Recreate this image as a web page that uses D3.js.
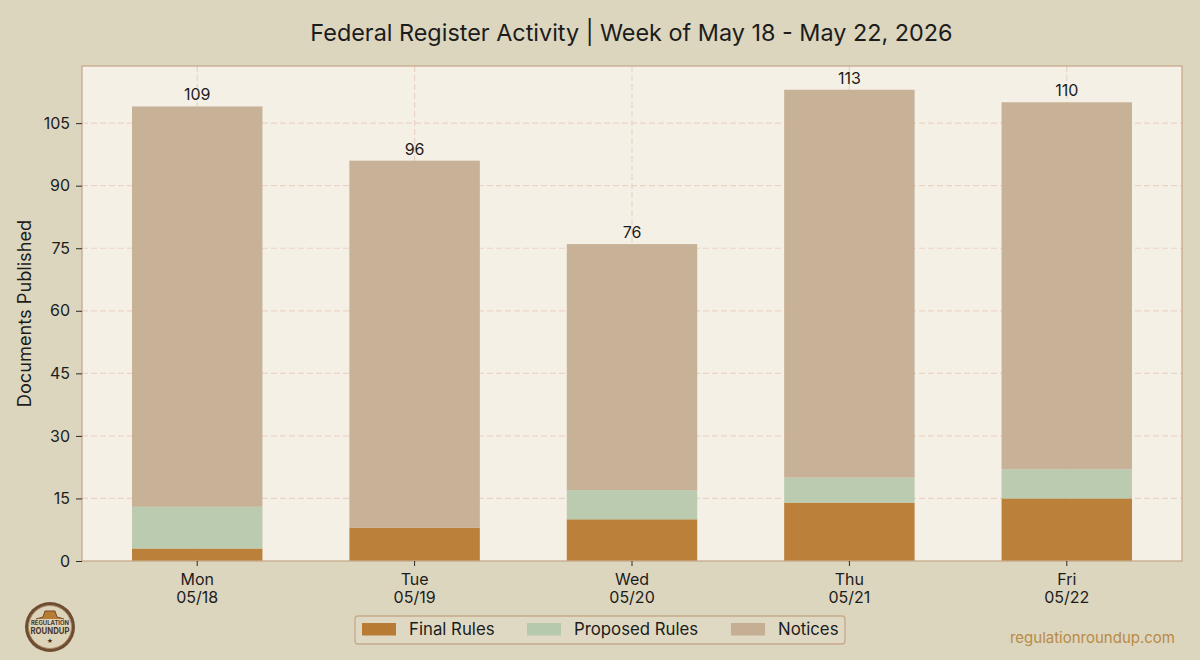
<!DOCTYPE html>
<html>
<head>
<meta charset="utf-8">
<script src="https://cdn.jsdelivr.net/npm/d3@7"></script>
<style>
  html, body { margin: 0; padding: 0; background: #dcd6be; }
  svg { display: block; }
  text { font-family: Inter, "Noto Sans", sans-serif; fill: #1c1c1c; }
</style>
</head>
<body>
<script>
// values
var days = ['Mon', 'Tue', 'Wed', 'Thu', 'Fri'];
var dates = ['05/18', '05/19', '05/20', '05/21', '05/22'];
var finalRules = [3, 8, 10, 14, 15];
var proposedRules = [10, 0, 7, 6, 7];
var notices = [96, 88, 59, 93, 88];
var totals = [109, 96, 76, 113, 110];
var yTicks = [0, 15, 30, 45, 60, 75, 90, 105];
var seriesNames = ['Final Rules', 'Proposed Rules', 'Notices'];
var seriesColors = ['#b87b33', '#b7c9ad', '#c5ae94'];

var width = 1200;
var height = 660;
var plotLeft = 82, plotRight = 1182, plotTop = 66, plotBottom = 561;

var svg = d3.select('body')
  .append('svg')
    .attr('width', width)
    .attr('height', height);

svg.append('rect')
    .attr('width', width)
    .attr('height', height)
    .attr('fill', '#dcd6be');

var x = d3.scaleBand()
    .domain(days)
    .range([plotLeft, plotRight])
    .paddingInner(0.4)
    .paddingOuter(0.23);

var y = d3.scaleLinear()
    .domain([0, 118.7])
    .range([plotBottom, plotTop]);

// plot background
svg.append('rect')
    .attr('x', plotLeft)
    .attr('y', plotTop)
    .attr('width', plotRight - plotLeft)
    .attr('height', plotBottom - plotTop)
    .attr('fill', '#f5f0e6');

// grid
var gridColor = '#ebd3c6';
svg.append('g').selectAll('line')
  .data(yTicks.slice(1))
  .join('line')
    .attr('x1', plotLeft).attr('x2', plotRight)
    .attr('y1', d => y(d)).attr('y2', d => y(d))
    .attr('stroke', gridColor)
    .attr('stroke-width', 1.2)
    .attr('stroke-dasharray', '6 3');

svg.append('g').selectAll('line')
  .data(days)
  .join('line')
    .attr('x1', d => x(d) + x.bandwidth() / 2)
    .attr('x2', d => x(d) + x.bandwidth() / 2)
    .attr('y1', plotTop).attr('y2', plotBottom)
    .attr('stroke', gridColor)
    .attr('stroke-width', 1.2)
    .attr('stroke-dasharray', '6 3');

// stacked bars
var rows = days.map((d, i) => ({
  day: d,
  'Final Rules': finalRules[i],
  'Proposed Rules': proposedRules[i],
  'Notices': notices[i]
}));
var stacked = d3.stack().keys(seriesNames)(rows);

svg.append('g').selectAll('g')
  .data(stacked)
  .join('g')
    .attr('fill', (d, i) => seriesColors[i])
    .attr('fill-opacity', 0.96)
  .selectAll('rect')
  .data(d => d)
  .join('rect')
    .attr('x', d => x(d.data.day))
    .attr('y', d => y(d[1]))
    .attr('width', x.bandwidth())
    .attr('height', d => y(d[0]) - y(d[1]));

// totals over the bars
svg.append('g').selectAll('text')
  .data(totals)
  .join('text')
    .attr('x', (d, i) => x(days[i]) + x.bandwidth() / 2)
    .attr('y', d => y(d) - 6)
    .attr('text-anchor', 'middle')
    .attr('font-size', 16)
    .text(d => d);

// frame
svg.append('rect')
    .attr('x', plotLeft)
    .attr('y', plotTop)
    .attr('width', plotRight - plotLeft)
    .attr('height', plotBottom - plotTop)
    .attr('fill', 'none')
    .attr('stroke', '#c6a98c')
    .attr('stroke-width', 1.3);

// axes
var yAxis = d3.axisLeft(y).tickValues(yTicks).tickSize(6).tickPadding(6);
var gy = svg.append('g')
    .attr('transform', 'translate(' + plotLeft + ',0)')
    .call(yAxis);
gy.select('.domain').remove();
gy.selectAll('line').attr('stroke', '#2a2a2a');
gy.selectAll('text').attr('font-size', 16).style('font-family', 'Inter');

var xAxis = d3.axisBottom(x).tickSize(5).tickFormat('');
var gx = svg.append('g')
    .attr('transform', 'translate(0,' + plotBottom + ')')
    .call(xAxis);
gx.select('.domain').remove();
gx.selectAll('line').attr('stroke', '#2a2a2a');

var xLabels = svg.append('g').selectAll('text')
  .data(days)
  .join('text')
    .attr('text-anchor', 'middle')
    .attr('font-size', 16);
xLabels.append('tspan')
    .attr('x', d => x(d) + x.bandwidth() / 2)
    .attr('y', 585)
    .text(d => d);
xLabels.append('tspan')
    .attr('x', d => x(d) + x.bandwidth() / 2)
    .attr('y', 603)
    .text((d, i) => dates[i]);

// titles
svg.append('text')
    .attr('x', 631.5)
    .attr('y', 41)
    .attr('text-anchor', 'middle')
    .attr('font-size', 23.4)
    .text('Federal Register Activity | Week of May 18 - May 22, 2026');

svg.append('text')
    .attr('transform', 'translate(31,313.5) rotate(-90)')
    .attr('text-anchor', 'middle')
    .attr('font-size', 18.2)
    .text('Documents Published');

// legend
svg.append('rect')
    .attr('x', 355)
    .attr('y', 616)
    .attr('width', 490)
    .attr('height', 28)
    .attr('rx', 3)
    .attr('fill', '#dfd9c3')
    .attr('stroke', '#c6a98c')
    .attr('stroke-width', 1.3);

var legendX = [362, 527, 731];
var legend = svg.append('g').selectAll('g')
  .data(seriesNames)
  .join('g')
    .attr('transform', (d, i) => 'translate(' + legendX[i] + ',623)');
legend.append('rect')
    .attr('width', 34)
    .attr('height', 12.5)
    .attr('fill', (d, i) => seriesColors[i]);
legend.append('text')
    .attr('x', 47)
    .attr('y', 12)
    .attr('font-size', 16.8)
    .text(d => d);

// site name
svg.append('text')
    .attr('x', 1175)
    .attr('y', 643)
    .attr('text-anchor', 'end')
    .attr('font-size', 15)
    .style('fill', '#b98a45')
    .text('regulationroundup.com');

// logo badge
var logo = svg.append('g').attr('transform', 'translate(50,627)');
logo.append('circle').attr('r', 25).attr('fill', '#6f4d33');
logo.append('circle').attr('r', 21.5).attr('fill', '#dcd3b8').attr('stroke', '#a98d6c').attr('stroke-width', 1);
logo.append('path').attr('d', d3.line()([[-14, -8], [-7, -10], [-5, -16], [5, -16], [7, -10], [14, -8]]))
    .attr('fill', '#b87b33').attr('stroke', '#6f4d33').attr('stroke-width', 1);
logo.append('text').attr('y', -2).attr('text-anchor', 'middle')
    .attr('font-size', 5.5).attr('font-weight', 700).style('fill', '#4c3526')
    .attr('textLength', 38).attr('lengthAdjust', 'spacingAndGlyphs').text('REGULATION');
logo.append('text').attr('y', 7).attr('text-anchor', 'middle')
    .attr('font-size', 9).attr('font-weight', 700).style('fill', '#4c3526')
    .attr('textLength', 39).attr('lengthAdjust', 'spacingAndGlyphs').text('ROUNDUP');
logo.append('text').attr('y', 16).attr('text-anchor', 'middle')
    .attr('font-size', 6).style('fill', '#3a2a20').text('★');
</script>
</body>
</html>
